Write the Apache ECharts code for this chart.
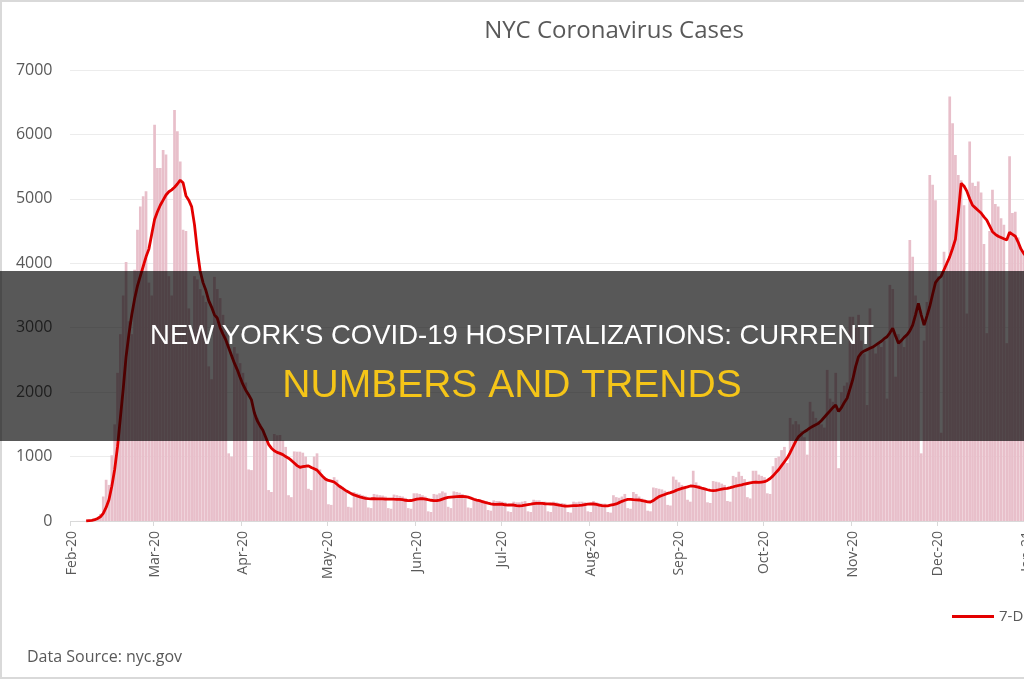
<!DOCTYPE html>
<html>
<head>
<meta charset="utf-8">
<style>html,body{margin:0;padding:0;background:#fff}#c{width:1024px;height:680px}</style>
<script src="https://cdn.jsdelivr.net/npm/echarts/dist/echarts.min.js"></script>
</head>
<body>
<div id="c"></div>
<script>
const chartTitle = 'NYC Coronavirus Cases';
const sourceText = 'Data Source: nyc.gov';
const headline1 = "NEW YORK'S COVID-19 HOSPITALIZATIONS: CURRENT";
const headline2 = 'NUMBERS AND TRENDS';
const legendName = '7-Day Average';
const barName = 'Daily Cases';
const startYear = 2020, startMonth = 1, startDay = 1; // 2020-02-01
const dayCount = 345;
const monthLabels = ['Feb-20','Mar-20','Apr-20','May-20','Jun-20','Jul-20','Aug-20','Sep-20','Oct-20','Nov-20','Dec-20','Jan-21'];
const yMin = 0, yMax = 7000, yStep = 1000;

const dailyCases = [
  0, 0, 1, 1, 2, 3, 5,
  8, 20, 40, 110, 380, 640, 560,
  1020, 1500, 2300, 2900, 3500, 4020, 3100,
  2900, 3900, 4520, 4880, 5040, 5120, 3700,
  3500, 6150, 5480, 5480, 5760, 5690, 3800,
  3500, 6380, 6050, 5580, 4520, 4500, 3300,
  2900, 3800, 3750, 3600, 3500, 3400, 2400,
  2200, 3790, 3600, 3460, 3200, 3000, 1050,
  1000, 2700, 2600, 2450, 2300, 2150, 800,
  790, 1700, 1600, 1500, 1400, 1300, 480,
  450, 1350, 1330, 1335, 1250, 1150, 400,
  370, 1080, 1076, 1076, 1060, 1000, 500,
  480, 1000, 1050, 800, 700, 650, 260,
  250, 680, 640, 560, 530, 480, 220,
  210, 450, 430, 420, 400, 390, 210,
  200, 420, 410, 400, 395, 380, 200,
  190, 410, 400, 390, 380, 360, 200,
  190, 430, 430, 420, 400, 380, 150,
  140, 420, 410, 430, 460, 440, 220,
  200, 460, 450, 440, 420, 400, 210,
  200, 360, 340, 330, 320, 300, 170,
  160, 320, 310, 310, 300, 290, 150,
  140, 300, 290, 290, 300, 310, 150,
  140, 330, 320, 320, 300, 300, 150,
  140, 300, 290, 280, 280, 270, 140,
  130, 300, 290, 300, 300, 290, 150,
  140, 310, 290, 280, 270, 270, 140,
  130, 400, 370, 360, 380, 420, 200,
  190, 450, 420, 380, 350, 330, 160,
  150, 520, 510, 500, 490, 470, 250,
  240, 690, 640, 600, 560, 520, 330,
  300, 780, 600, 560, 520, 500, 290,
  280, 620, 610, 600, 580, 560, 310,
  300, 700, 680, 765, 700, 650, 370,
  350, 780, 780, 720, 700, 680, 430,
  420, 850, 980, 1000, 1100, 1150, 900,
  1600, 1500, 1550, 1500, 1400, 1300, 1030,
  1850, 1700, 1600, 1550, 1500, 1450, 2345,
  1900, 1850, 2300, 820, 2000, 2100, 2150,
  3170, 3170, 3000, 3200, 2800, 2600, 1800,
  3300, 2700, 2600, 2760, 2700, 2800, 1900,
  3665, 3600, 2240, 2900, 2800, 2700, 2900,
  4363, 4100, 3500, 3300, 1050, 2800, 3400,
  5370, 5220, 4980, 3800, 1370, 4180, 4000,
  6590, 6175, 5680, 5370, 5290, 4900, 3220,
  5890, 5250, 5200, 5270, 5100, 4300, 2915,
  4500, 5140, 4920, 4880, 4700, 4600, 2760,
  5660, 4780, 4800, 4400, 4200, 4160, 3000,
  2800
];

const sevenDayAvg = [
  null, null, null, null, null, 0, 5,
  10, 20, 40, 65, 120, 210, 330,
  540, 800, 1150, 1600, 2050, 2550, 2900,
  3200, 3450, 3650, 3800, 3950, 4100, 4220,
  4450, 4680, 4800, 4900, 4980, 5060, 5110,
  5140, 5180, 5230, 5290, 5250, 5050, 4980,
  4880, 4600, 4200, 3880, 3700, 3580, 3420,
  3320, 3200, 3150, 3000, 2900, 2810, 2690,
  2570, 2450, 2350, 2230, 2120, 2030, 1960,
  1880, 1680, 1560, 1480, 1410, 1300, 1190,
  1130, 1090, 1065, 1050, 1030, 1000, 975,
  940, 900, 860, 834, 845, 850, 856,
  830, 810, 790, 740, 690, 650, 630,
  620, 605, 570, 535, 505, 475, 450,
  425, 405, 390, 375, 362, 352, 348,
  345, 345, 343, 342, 342, 340, 338,
  340, 338, 337, 337, 330, 322, 315,
  318, 328, 338, 345, 346, 340, 330,
  322, 317, 315, 325, 340, 355, 366,
  370, 374, 378, 380, 380, 378, 370,
  355, 338, 325, 315, 302, 288, 276,
  266, 260, 258, 262, 260, 252, 248,
  248, 248, 240, 235, 240, 248, 255,
  262, 270, 275, 275, 272, 268, 265,
  264, 262, 255, 246, 238, 233, 232,
  235, 238, 240, 243, 248, 255, 262,
  264, 264, 258, 248, 240, 234, 235,
  245, 255, 265, 285, 305, 322, 335,
  337, 332, 328, 326, 318, 308, 298,
  295, 318, 350, 378, 395, 412, 428,
  440, 455, 475, 492, 505, 518, 530,
  543, 540, 532, 523, 510, 498, 485,
  475, 470, 475, 485, 495, 503, 507,
  518, 530, 543, 552, 562, 574, 582,
  590, 598, 605, 600, 605, 610, 630,
  660, 700, 750, 800, 860, 920, 980,
  1060, 1150, 1240, 1310, 1350, 1385, 1413,
  1445, 1470, 1495, 1517, 1560, 1610, 1660,
  1710, 1760, 1800, 1700, 1760, 1840, 1905,
  2050, 2200, 2400, 2550, 2610, 2640, 2660,
  2680, 2700, 2730, 2760, 2790, 2830, 2860,
  2920, 2990, 2870, 2760, 2800, 2850, 2890,
  2950, 3040, 3200, 3380, 3200, 3040, 3180,
  3330, 3520, 3700, 3760, 3800, 3900, 4000,
  4100, 4230, 4370, 4780, 5240, 5200, 5120,
  5000, 4900, 4860, 4820, 4780, 4720, 4670,
  4580, 4490, 4450, 4420, 4400, 4380, 4363,
  4480, 4450, 4420, 4330, 4220, 4150, 4100,
  4060
];

const categories = [];
for (let i = 0; i < dayCount; i++) {
  const d = new Date(Date.UTC(startYear, startMonth, startDay + i));
  categories.push(d.toISOString().slice(0, 10));
}
const isMonthStart = (idx, val) => val.slice(8, 10) === '01';
const monthLabel = (val) => {
  const y = +val.slice(0, 4), m = +val.slice(5, 7);
  return monthLabels[(y - startYear) * 12 + (m - 1 - startMonth)] || '';
};

const FONT = '"Open Sans", "Noto Sans", sans-serif';
const HEAD_FONT = '"Liberation Sans", Arial, sans-serif';
const GREY = '#595959';

const chart = echarts.init(document.getElementById('c'), null, {renderer: 'canvas'});
chart.setOption({
  animation: false,
  backgroundColor: '#ffffff',
  grid: {left: 70.5, top: 70, width: 983.25, height: 451, containLabel: false, outerBoundsMode: 'none'},
  legend: {
    data: [{name: legendName, icon: 'rect'}],
    left: 947, top: 604,
    itemWidth: 42, itemHeight: 3,
    textStyle: {color: GREY, fontSize: 15, fontFamily: FONT}
  },
  xAxis: {
    type: 'category',
    data: categories,
    boundaryGap: true,
    axisLine: {show: true, lineStyle: {color: '#d9d9d9', width: 1}},
    axisTick: {show: true, interval: isMonthStart, length: 5, lineStyle: {color: '#d9d9d9'}},
    axisLabel: {
      interval: isMonthStart, rotate: 90, margin: 10,
      formatter: monthLabel, color: GREY, fontSize: 14, fontFamily: FONT
    },
    splitLine: {show: false}
  },
  yAxis: {
    type: 'value', min: yMin, max: yMax, interval: yStep,
    axisLine: {show: false}, axisTick: {show: false},
    axisLabel: {color: GREY, fontSize: 16, fontFamily: FONT, margin: 18, formatter: (v) => String(v)},
    splitLine: {show: true, lineStyle: {color: '#d9d9d9', type: 'dotted', width: 1}}
  },
  series: [
    {
      type: 'bar', name: barName, data: dailyCases,
      barCategoryGap: '5%',
      itemStyle: {color: '#E8BFCA'},
      z: 2
    },
    {
      type: 'line', name: legendName, data: sevenDayAvg,
      symbol: 'none', showSymbol: false, smooth: false,
      lineStyle: {color: '#E30000', width: 2.8},
      itemStyle: {color: '#E30000'},
      z: 3
    }
  ],
  graphic: [
    {type: 'rect', shape: {x: 1, y: 1, width: 1100, height: 677},
     style: {fill: 'none', stroke: '#d9d9d9', lineWidth: 2}, z: 50, silent: true},
    {type: 'text', x: 614, y: 31,
     style: {text: chartTitle, fill: GREY, fontSize: 24, fontFamily: FONT, align: 'center', verticalAlign: 'middle'}, z: 50},
    {type: 'text', x: 27, y: 657,
     style: {text: sourceText, fill: GREY, fontSize: 16, fontFamily: FONT, align: 'left', verticalAlign: 'middle'}, z: 50},
    {type: 'rect', shape: {x: 0, y: 271, width: 1024, height: 170},
     style: {fill: 'rgba(0,0,0,0.655)'}, z: 100, silent: true},
    {type: 'text', x: 512, y: 336,
     style: {text: headline1, fill: '#ffffff', fontSize: 27.5, fontFamily: HEAD_FONT, align: 'center', verticalAlign: 'middle'}, z: 101},
    {type: 'text', x: 512, y: 386,
     style: {text: headline2, fill: '#F5C518', fontSize: 39, fontFamily: HEAD_FONT, align: 'center', verticalAlign: 'middle'}, z: 101}
  ]
});
</script>
</body>
</html>
